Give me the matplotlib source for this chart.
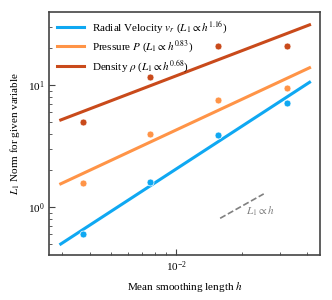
import numpy as np
import matplotlib
matplotlib.use("Agg")
import matplotlib.pyplot as plt

plt.rcParams['font.family'] = ['Liberation Serif', 'DejaVu Serif']
plt.rcParams['mathtext.fontset'] = 'stix'

# Data
h = np.array([3.75e-3, 7.55e-3, 1.55e-2, 3.22e-2])
velocity = np.array([0.597, 1.60, 3.87, 7.16])
pressure = np.array([1.58, 3.99, 7.58, 9.4])
density = np.array([4.97, 11.6, 21.0, 21.0])

names = ['Radial Velocity $v_r$', 'Pressure $P$', r'Density $\rho$']
series = [velocity, pressure, density]
colors = ['#0FA8F2', '#FF9447', '#C94A1B']

fig, ax = plt.subplots(figsize=(3.32, 3.0), dpi=100)
fig.subplots_adjust(left=0.148, right=0.964, top=0.96, bottom=0.15)

hfit = np.logspace(np.log10(h.min() * 0.787), np.log10(h.max() * 1.27), 50)
for name, vals, c in zip(names, series, colors):
    slope, icpt = np.polyfit(np.log10(h), np.log10(vals), 1)
    ax.plot(hfit, 10**icpt * hfit**slope, color=c, lw=2.2,
            label=name + r' ($L_1 \propto h^{%.2f}$)' % slope)
    ax.plot(h, vals, 'o', color=c, ms=5, mec='white', mew=0.5)

# reference slope
href = np.array([1.59e-2, 2.52e-2])
ax.plot(href, 0.808 * href / href[0], '--', color='gray', lw=1.2)
ax.text(2.08e-2, 0.915, r'$L_1 \propto h$', color='gray', fontsize=8, va='center')

ax.set_xscale('log')
ax.set_yscale('log')
ax.set_xlim(2.61e-3, 4.57e-2)
ax.set_ylim(0.404, 39.7)
ax.set_xlabel('Mean smoothing length $h$', fontsize=8)
ax.set_ylabel('$L_1$ Norm for given variable', fontsize=8)
ax.tick_params(which='both', direction='in', labelsize=8, color='#444444')
ax.tick_params(which='major', length=4)
ax.tick_params(which='minor', length=2)
for s in ax.spines.values():
    s.set_color('#444444')
    s.set_linewidth(1.2)

ax.legend(loc='upper left', frameon=False, fontsize=8, handlelength=2.4,
          borderaxespad=0.3, labelspacing=0.25)

plt.savefig('out.png', dpi=100)
